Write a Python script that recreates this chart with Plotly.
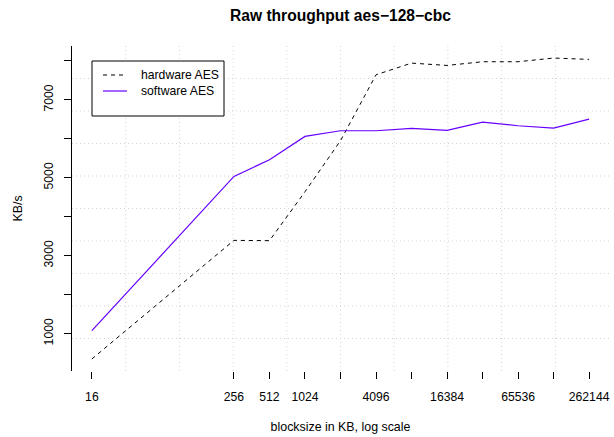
import numpy as np
import plotly.graph_objects as go

# ---- data ----
blocksize = [16, 256, 512, 1024, 2048, 4096, 8192, 16384, 32768, 65536, 131072, 262144]
hardware_aes = [351, 3393, 3385, 4640, 5950, 7640, 7940, 7880, 7975, 7975, 8070, 8035]
software_aes = [1077, 5033, 5462, 6059, 6205, 6205, 6264, 6213, 6428, 6333, 6274, 6505]
x_tick_vals = [16, 256, 512, 1024, 2048, 4096, 8192, 16384, 32768, 65536, 131072, 262144]
x_tick_text = ["16", "256", "512", "1024", "", "4096", "", "16384", "", "65536", "", "262144"]
y_tick_vals = [1000, 2000, 3000, 4000, 5000, 6000, 7000, 8000]
y_tick_text = ["1000", "", "3000", "", "5000", "", "7000", ""]
series_names = ["hardware AES", "software AES"]
series_colors = ["black", "#6600FF"]
series_dash = ["4px,4px", "solid"]

W, H = 614, 437
FONT = "Liberation Sans, Arial, sans-serif"
FS = 12.2
L, R, T, B = 72, 5, 46, 66
PW, PH = W - L - R, H - T - B

def px(xp):
    return (xp - L) / PW

def py(yp):
    return (H - B - yp) / PH

# R-style 4% axis extension
lx = np.log10([min(blocksize), max(blocksize)])
dx = lx[1] - lx[0]
xr = [lx[0] - 0.04 * dx, lx[1] + 0.04 * dx]
ymin = min(min(hardware_aes), min(software_aes))
ymax = max(max(hardware_aes), max(software_aes))
dy = ymax - ymin
yr = [ymin - 0.04 * dy, ymax + 0.04 * dy]

fig = go.Figure()
for name, vals, col, dsh in zip(series_names, [hardware_aes, software_aes], series_colors, series_dash):
    fig.add_trace(go.Scatter(x=blocksize, y=vals, mode="lines", name=name,
                             line=dict(color=col, width=1 if col == "black" else 1.2, dash=dsh),
                             showlegend=False))

shapes = []
# dotted grid: 10 equal divisions in each direction
for k in range(1, 10):
    f = k / 10
    shapes.append(dict(type="line", xref="paper", yref="paper", x0=f, x1=f, y0=0, y1=1,
                       line=dict(color="#D3D3D3", width=1, dash="1px,3px"), layer="below"))
    shapes.append(dict(type="line", xref="paper", yref="paper", x0=0, x1=1, y0=f, y1=f,
                       line=dict(color="#D3D3D3", width=1, dash="1px,3px"), layer="below"))
# x axis line only spans first..last tick (R style)
shapes.append(dict(type="line", xref="x", yref="paper",
                   x0=np.log10(x_tick_vals[0]), x1=np.log10(x_tick_vals[-1]), y0=0, y1=0,
                   line=dict(color="black", width=1)))

# legend (R style box)
shapes.append(dict(type="rect", xref="paper", yref="paper",
                   x0=px(92), x1=px(224), y0=py(116), y1=py(61),
                   line=dict(color="black", width=1), fillcolor="white"))
annotations = []
for i, (name, col, dsh) in enumerate(zip(series_names, series_colors, series_dash)):
    yy = 75 + 16 * i
    shapes.append(dict(type="line", xref="paper", yref="paper",
                       x0=px(103), x1=px(127), y0=py(yy), y1=py(yy),
                       line=dict(color=col, width=1 if col == "black" else 1.2, dash=dsh)))
    annotations.append(dict(text=name, xref="paper", yref="paper", x=px(139), y=py(yy),
                            xanchor="left", yanchor="middle", showarrow=False,
                            font=dict(family=FONT, size=FS, color="black")))

fig.update_layout(
    width=W, height=H,
    margin=dict(l=L, r=R, t=T, b=B),
    paper_bgcolor="white", plot_bgcolor="white",
    font=dict(family=FONT, size=FS, color="black"),
    title=dict(text="<b>Raw throughput aes−128−cbc</b>", x=0.5, xanchor="center",
               xref="paper", y=1 - 16 / H, yanchor="middle",
               font=dict(family=FONT, size=15.6, color="black")),
    shapes=shapes,
    annotations=annotations,
    showlegend=False,
)
fig.update_xaxes(type="log", range=xr, showgrid=False, zeroline=False, showline=False,
                 tickmode="array", tickvals=x_tick_vals, ticktext=x_tick_text,
                 ticks="outside", ticklen=7, tickcolor="black", tickwidth=1,
                 ticklabelstandoff=7,
                 title=dict(text="blocksize in KB, log scale", standoff=19,
                            font=dict(family=FONT, size=12.4)))
fig.update_yaxes(range=yr, showgrid=False, zeroline=False, showline=True,
                 linecolor="black", linewidth=1,
                 tickmode="array", tickvals=y_tick_vals, ticktext=y_tick_text,
                 ticks="outside", ticklen=7, tickcolor="black", tickwidth=1,
                 tickangle=-90, ticklabelstandoff=6,
                 title=dict(text="KB/s", standoff=16, font=dict(family=FONT, size=12.4)))

fig.write_html("out.html")
